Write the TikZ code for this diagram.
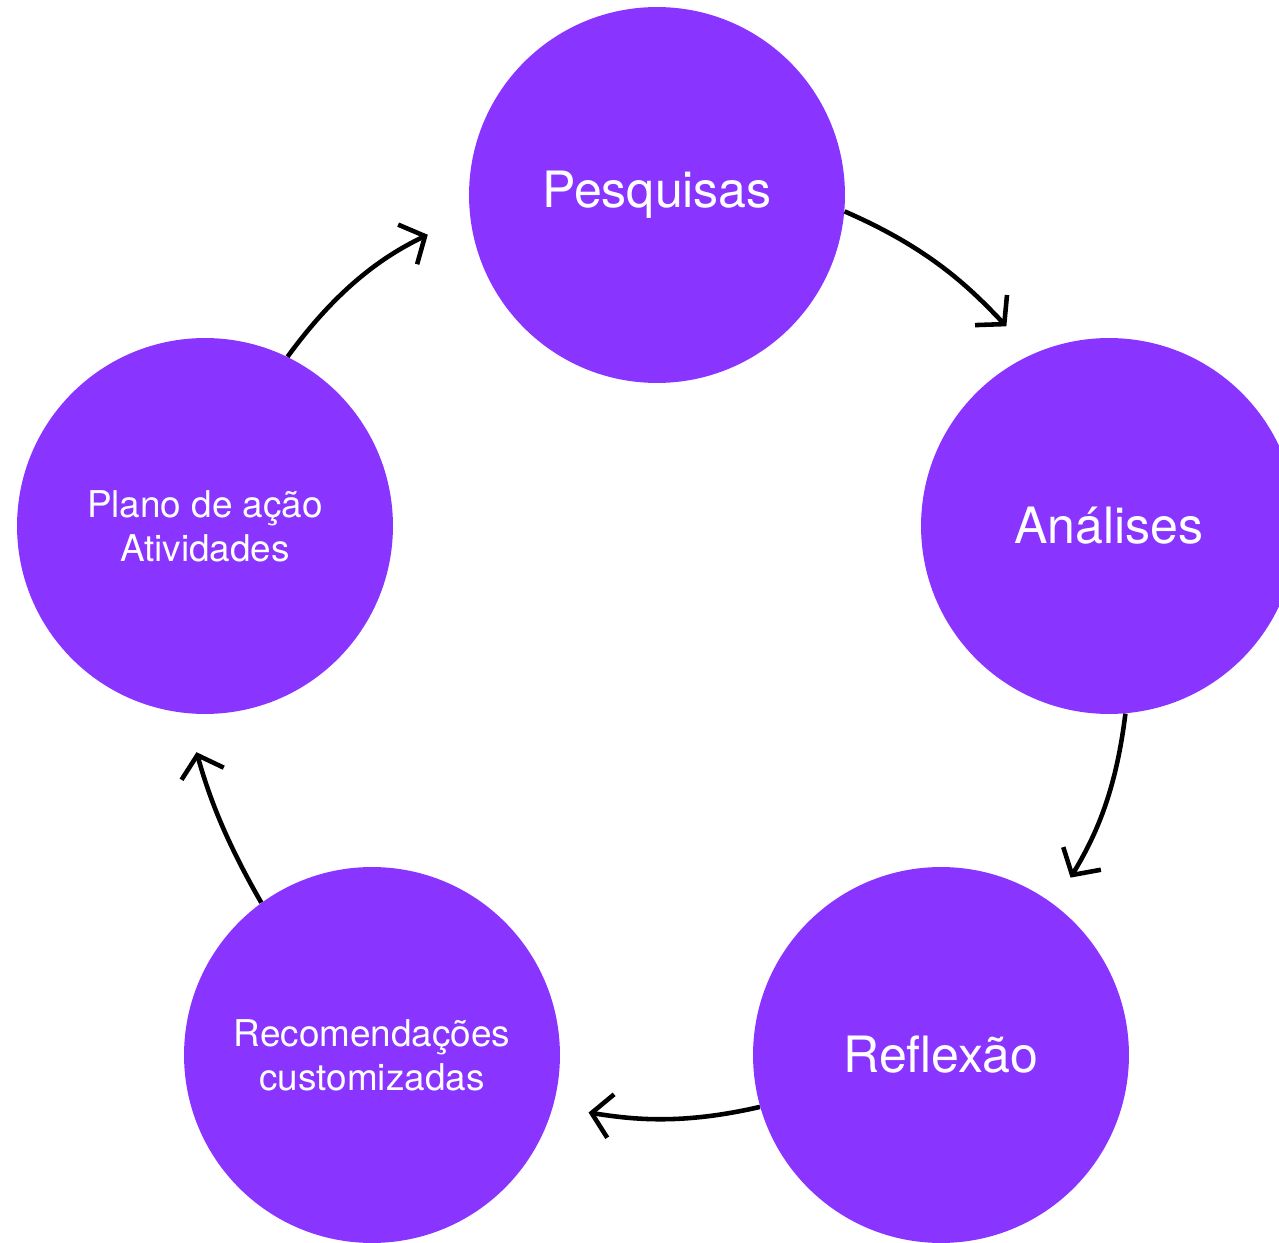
\documentclass[tikz,border=0pt]{standalone}
\usepackage{fontspec}
\setmainfont{TeX Gyre Heros}
\usepackage{xcolor}
\usetikzlibrary{arrows.meta}
\definecolor{cyclepurple}{HTML}{8A34FF}
\tikzset{
    stage/.style={circle,fill=cyclepurple,text=white,minimum size=7.52cm,inner sep=0pt,align=center},
    bigtext/.style={font=\fontsize{28.5}{34}\selectfont},
    smalltext/.style={font=\fontsize{21}{25}\selectfont},
    cyclearrow/.style={line width=2.6pt,-{Straight Barb[length=11pt,width=25pt]}}
}

\begin{document}
\begin{tikzpicture}[x=0.02cm,y=-0.02cm]
    \useasboundingbox (0,0) rectangle (1279,1243);
    \clip (0,0) rectangle (1279,1243);
    \node[stage,bigtext] (pesq) at (657,195) {Pesquisas};
    \node[stage,bigtext] (anal) at (1109,526) {Análises};
    \node[stage,bigtext] (refl) at (941,1055) {Reflexão};
    \node[stage,smalltext] (recom) at (372,1055) {Recomendações\\customizadas};
    \node[stage,smalltext] (plano) at (205,526) {Plano de ação\\Atividades};
    \draw[cyclearrow,shorten >=0.76cm] (pesq.-5.5) to[out=-23.5,in=133.3] (anal.114);
    \draw[cyclearrow,shorten >=0.63cm] (anal.-85) to[out=-97,in=59] (refl.53.5);
    \draw[cyclearrow,shorten >=0.72cm] (refl.196) to[out=193,in=-9] (recom.-16);
    \draw[cyclearrow,shorten >=0.81cm] (recom.126) to[out=120,in=-74] (plano.-96);
    \draw[cyclearrow,shorten >=0.93cm] (plano.64.6) to[out=54,in=205.6] (pesq.186);
\end{tikzpicture}
\end{document}
